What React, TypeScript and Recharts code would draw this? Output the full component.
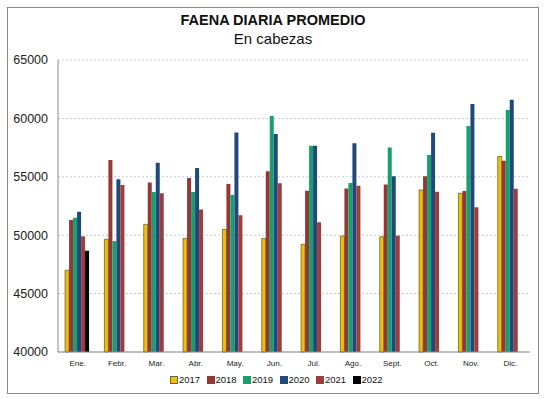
import { BarChart, Bar, XAxis, YAxis, CartesianGrid } from 'recharts';

const months = ['Ene.', 'Febr.', 'Mar.', 'Abr.', 'May.', 'Jun.', 'Jul.', 'Ago.', 'Sept.', 'Oct.', 'Nov.', 'Dic.'];
const y2017 = [47000, 49650, 50930, 49730, 50500, 49730, 49220, 49930, 49870, 53870, 53590, 56740];
const y2018 = [51300, 56430, 54520, 54900, 54380, 55470, 53810, 54000, 54350, 55040, 53780, 56370];
const y2019 = [51500, 49500, 53700, 53700, 53440, 60200, 57660, 54470, 57510, 56860, 59350, 60720];
const y2020 = [52000, 54780, 56200, 55750, 58800, 58660, 57660, 57870, 55040, 58780, 61230, 61600];
const y2021 = [49900, 54300, 53590, 52210, 51700, 54440, 51100, 54240, 49960, 53720, 52390, 53980];
const y2022 = [48670, null, null, null, null, null, null, null, null, null, null, null];
const yTicks = [40000, 45000, 50000, 55000, 60000, 65000];

const series = [
  { key: 'y2017', name: '2017', color: '#F5BE00', stroke: '#5b6b3c' },
  { key: 'y2018', name: '2018', color: '#953735' },
  { key: 'y2019', name: '2019', color: '#16A06C' },
  { key: 'y2020', name: '2020', color: '#1F497D' },
  { key: 'y2021', name: '2021', color: '#9E3D3A' },
  { key: 'y2022', name: '2022', color: '#000000' },
];

const data = months.map((m, i) => ({
  month: m,
  y2017: y2017[i],
  y2018: y2018[i],
  y2019: y2019[i],
  y2020: y2020[i],
  y2021: y2021[i],
  y2022: y2022[i],
}));

const font = '"Liberation Sans", Arial, sans-serif';

export default function App() {
  return (
    <div style={{ position: 'absolute', left: 7, top: 7, width: 532, height: 387, border: '1px solid #8a8a8a', boxSizing: 'border-box', background: '#fff', fontFamily: font }}>
      <div style={{ position: 'absolute', left: 0, right: 0, top: 3, textAlign: 'center', fontWeight: 'bold', fontSize: 14.5, color: '#111', lineHeight: '18px' }}>
        FAENA DIARIA PROMEDIO
      </div>
      <div style={{ position: 'absolute', left: 0, right: 0, top: 22, textAlign: 'center', fontSize: 15, color: '#111', lineHeight: '18px' }}>
        En cabezas
      </div>
      <BarChart width={530} height={385} data={data} margin={{ top: 52, right: 8, left: 0, bottom: 0 }} barCategoryGap="18%" barGap={0}>
        <CartesianGrid vertical={false} stroke="#c3cad6" strokeDasharray="2 2" />
        <XAxis dataKey="month" height={41} axisLine={{ stroke: '#8a8a8a' }} tickLine={false} tick={{ fill: '#222', fontSize: 8, fontFamily: font }} interval={0} />
        <YAxis width={50} domain={[40000, 65000]} ticks={yTicks} axisLine={{ stroke: '#8a8a8a' }} tickLine={false} tickMargin={4} tick={{ fill: '#222', fontSize: 12.5, fontFamily: font }} />
        {series.map(s => (
          <Bar key={s.key} dataKey={s.key} name={s.name} fill={s.color} stroke={s.stroke} strokeWidth={s.stroke ? 0.8 : 0} isAnimationActive={false} />
        ))}
      </BarChart>
      <div style={{ position: 'absolute', top: 366, left: 162, display: 'flex', fontSize: 9.5, color: '#111', lineHeight: '12px' }}>
        {series.map(s => (
          <div key={s.key} style={{ display: 'flex', alignItems: 'center', width: 36.5 }}>
            <span style={{ width: 6, height: 6, background: s.color, border: `1px solid ${s.stroke || s.color}`, marginRight: 1, display: 'inline-block' }} />
            <span>{s.name}</span>
          </div>
        ))}
      </div>
    </div>
  );
}
